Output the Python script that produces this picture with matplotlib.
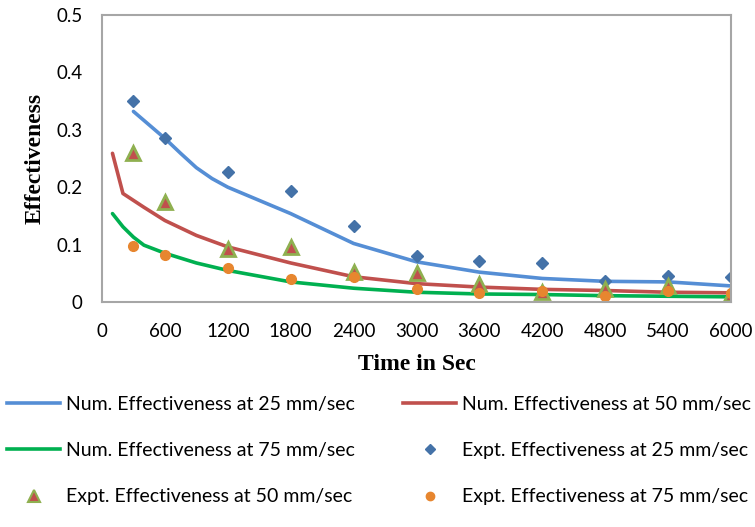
import matplotlib
matplotlib.use("Agg")
import matplotlib.pyplot as plt
from matplotlib.lines import Line2D

# Numerical curves
t_num = [100, 200, 300, 400, 600, 900, 1200, 1800, 2400, 3000, 3600, 4200, 4800, 5400, 6000]
num25_t = [300, 600, 750, 900, 1050, 1200, 1800, 2400, 3000, 3600, 4200, 4800, 5400, 6000]
num25 = [0.332, 0.285, 0.259, 0.234, 0.215, 0.200, 0.154, 0.102, 0.070, 0.052, 0.041, 0.036, 0.035, 0.028]
num50 = [0.259, 0.189, 0.177, 0.165, 0.142, 0.116, 0.096, 0.068, 0.044, 0.032, 0.026, 0.022, 0.020, 0.017, 0.016]
num75 = [0.154, 0.131, 0.113, 0.099, 0.085, 0.068, 0.055, 0.035, 0.024, 0.017, 0.014, 0.013, 0.011, 0.010, 0.009]

# Experimental points
t_exp = [300, 600, 1200, 1800, 2400, 3000, 3600, 4200, 4800, 5400, 6000]
exp25 = [0.351, 0.286, 0.226, 0.194, 0.132, 0.080, 0.071, 0.068, 0.036, 0.045, 0.043]
exp50 = [0.259, 0.175, 0.092, 0.095, 0.052, 0.050, 0.031, 0.017, 0.023, 0.028, 0.014]
exp75 = [0.097, 0.082, 0.059, 0.040, 0.043, 0.023, 0.016, 0.019, 0.010, 0.019, 0.016]

x_ticks = [0, 600, 1200, 1800, 2400, 3000, 3600, 4200, 4800, 5400, 6000]
y_ticks = [0, 0.1, 0.2, 0.3, 0.4, 0.5]
y_tick_labels = ["0", "0.1", "0.2", "0.3", "0.4", "0.5"]

labels = ["Num. Effectiveness at 25 mm/sec", "Num. Effectiveness at 50 mm/sec",
          "Num. Effectiveness at 75 mm/sec", "Expt. Effectiveness at 25 mm/sec",
          "Expt. Effectiveness at 50 mm/sec", "Expt. Effectiveness at 75 mm/sec"]

c_blue = "#558ED5"
c_red = "#C0504D"
c_green = "#00B050"
c_dia = "#4472A8"
c_tri_edge = "#8FB050"
c_orange = "#E7862F"

W, H = 755, 527
fig = plt.figure(figsize=(W / 100, H / 100), dpi=100)
ax = fig.add_axes([102 / W, 1 - 302 / H, (731 - 102) / W, (302 - 15) / H])

lw = 2.6
ax.plot(num25_t, num25, color=c_blue, lw=lw, solid_capstyle="round", solid_joinstyle="round")
ax.plot(t_num, num50, color=c_red, lw=lw, solid_capstyle="round", solid_joinstyle="round")
ax.plot(t_num, num75, color=c_green, lw=lw, solid_capstyle="round", solid_joinstyle="round")
ax.plot(t_exp, exp25, ls="none", marker="D", ms=6.5, color=c_dia, mec=c_dia)
ax.plot(t_exp, exp50, ls="none", marker="^", ms=10, color=c_red, mec=c_tri_edge, mew=2)
ax.plot(t_exp, exp75, ls="none", marker="o", ms=7, color=c_orange, mec=c_orange)

ax.set_xlim(0, 6000)
ax.set_ylim(0, 0.5)
ax.set_xticks(x_ticks)
ax.set_yticks(y_ticks)
ax.set_yticklabels(y_tick_labels)
ax.tick_params(axis="y", length=0, labelsize=13.5, pad=14)
ax.tick_params(axis="x", length=0, labelsize=13.5, pad=15)
for lab in ax.get_xticklabels() + ax.get_yticklabels():
    lab.set_family("Lato")
for s in ax.spines.values():
    s.set_color("#A6A6A6")
    s.set_linewidth(1.5)

ax.set_xlabel("Time in Sec", fontsize=17, fontweight="bold", family="Liberation Serif", labelpad=10)
ax.set_ylabel("Effectiveness", fontsize=17, fontweight="bold", family="Liberation Serif", labelpad=8)

h1 = Line2D([], [], color=c_blue, lw=lw)
h2 = Line2D([], [], color=c_red, lw=lw)
h3 = Line2D([], [], color=c_green, lw=lw)
h4 = Line2D([], [], ls="none", marker="D", ms=5.5, color=c_dia)
h5 = Line2D([], [], ls="none", marker="^", ms=8.5, color=c_red, mec=c_tri_edge, mew=1.5)
h6 = Line2D([], [], ls="none", marker="o", ms=6, color=c_orange)

leg_kw = dict(loc="upper left", frameon=False, prop={"family": "Lato", "size": 14},
              handlelength=2.75, handletextpad=0.26, labelspacing=1.5,
              borderaxespad=0, borderpad=0)
fig.legend([h1, h3, h5], [labels[0], labels[2], labels[4]],
           bbox_to_anchor=(7 / W, 1 - 396 / H), **leg_kw)
fig.legend([h2, h4, h6], [labels[1], labels[3], labels[5]],
           bbox_to_anchor=(403 / W, 1 - 396 / H), **leg_kw)

fig.savefig("out.png", dpi=100)
